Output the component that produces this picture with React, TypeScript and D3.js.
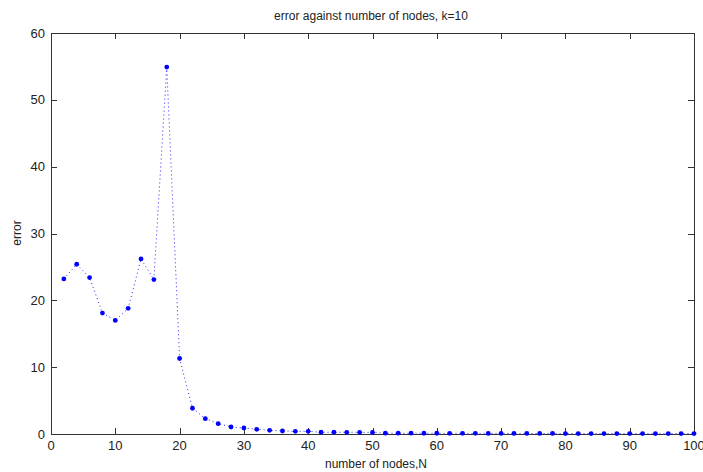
import React from "react";
import * as d3 from "d3";

const nodes: number[] = [
  2, 4, 6, 8, 10, 12, 14, 16, 18, 20,
  22, 24, 26, 28, 30, 32, 34, 36, 38, 40,
  42, 44, 46, 48, 50, 52, 54, 56, 58, 60,
  62, 64, 66, 68, 70, 72, 74, 76, 78, 80,
  82, 84, 86, 88, 90, 92, 94, 96, 98, 100,
];
const errors: number[] = [
  23.2, 25.4, 23.4, 18.1, 17.0, 18.8, 26.2, 23.1, 54.9, 11.3,
  3.85, 2.3, 1.55, 1.05, 0.9, 0.7, 0.55, 0.45, 0.4, 0.4,
  0.27, 0.26, 0.25, 0.25, 0.24, 0.13, 0.12, 0.12, 0.11, 0.11,
  0.1, 0.1, 0.1, 0.09, 0.09, 0.08, 0.08, 0.08, 0.08, 0.07,
  0.07, 0.07, 0.07, 0.07, 0.06, 0.06, 0.06, 0.06, 0.06, 0.06,
];
const xTicks: number[] = [0, 10, 20, 30, 40, 50, 60, 70, 80, 90, 100];
const yTicks: number[] = [0, 10, 20, 30, 40, 50, 60];

const titleText = "error against number of nodes, k=10";
const xLabelText = "number of nodes,N";
const yLabelText = "error";

export default function App() {
  const W = 703;
  const H = 472;
  const left = 51;
  const right = 694;
  const top = 33;
  const bottom = 434;
  const x = d3.scaleLinear().domain([0, 100]).range([left, right]);
  const y = d3.scaleLinear().domain([0, 60]).range([bottom, top]);
  const line = d3
    .line<number>()
    .x((_, i) => x(nodes[i]))
    .y((d) => y(d));
  const tickLen = 6;
  const axisColor = "#333";
  const textColor = "#222";
  const font = "Liberation Sans, Arial, Helvetica, sans-serif";

  return (
    <svg
      width={W}
      height={H}
      style={{ position: "absolute", left: 0, top: 0, background: "#fff" }}
      fontFamily={font}
    >
      <rect x={0} y={0} width={W} height={H} fill="#fff" />
      {/* box */}
      <rect
        x={left + 0.5}
        y={top + 0.5}
        width={right - left}
        height={bottom - top}
        fill="none"
        stroke={axisColor}
        strokeWidth={1}
      />
      {xTicks.map((t) => (
        <g key={"xt" + t}>
          <line x1={Math.round(x(t)) + 0.5} x2={Math.round(x(t)) + 0.5} y1={bottom} y2={bottom - tickLen} stroke={axisColor} />
          <line x1={Math.round(x(t)) + 0.5} x2={Math.round(x(t)) + 0.5} y1={top} y2={top + tickLen} stroke={axisColor} />
          <text x={x(t)} y={450} fontSize={13} textAnchor="middle" fill={textColor}>
            {t}
          </text>
        </g>
      ))}
      {yTicks.map((t) => (
        <g key={"yt" + t}>
          <line x1={left} x2={left + tickLen} y1={Math.round(y(t)) + 0.5} y2={Math.round(y(t)) + 0.5} stroke={axisColor} />
          <line x1={right} x2={right - tickLen} y1={Math.round(y(t)) + 0.5} y2={Math.round(y(t)) + 0.5} stroke={axisColor} />
          <text x={45} y={y(t)} dy="0.35em" fontSize={13} textAnchor="end" fill={textColor}>
            {t}
          </text>
        </g>
      ))}
      <path
        d={line(errors) || ""}
        fill="none"
        stroke="#0000ff"
        strokeWidth={1}
        strokeDasharray="1,3"
        opacity={0.85}
      />
      {errors.map((e, i) => (
        <circle key={"p" + i} cx={x(nodes[i])} cy={y(e)} r={2.4} fill="#0000ff" />
      ))}
      <text x={371} y={20} fontSize={12} textAnchor="middle" fill={textColor}>
        {titleText}
      </text>
      <text x={376} y={468} fontSize={12} textAnchor="middle" fill={textColor}>
        {xLabelText}
      </text>
      <text
        transform={`translate(21,233) rotate(-90)`}
        fontSize={12}
        textAnchor="middle"
        fill={textColor}
      >
        {yLabelText}
      </text>
    </svg>
  );
}
